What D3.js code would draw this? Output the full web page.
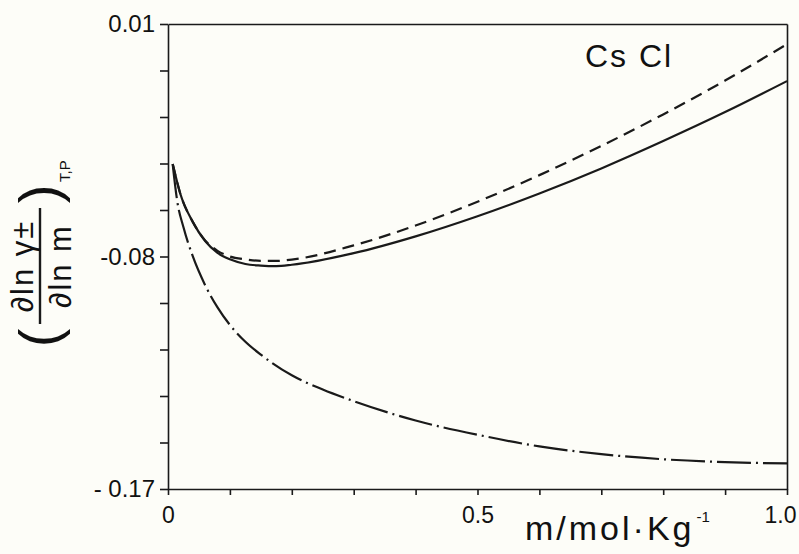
<!DOCTYPE html>
<html>
<head>
<meta charset="utf-8">
<script src="https://cdn.jsdelivr.net/npm/d3@7"></script>
<style>
  html, body { margin: 0; padding: 0; background: #fdfdf8; }
  svg { display: block; }
  text { font-family: "Liberation Sans", Arial, sans-serif; fill: #111; }
</style>
</head>
<body>
<div id="chart"></div>
<script>
// m / mol·kg^-1
const mSolid = [0.0076, 0.02, 0.04, 0.06, 0.08, 0.1, 0.125, 0.15, 0.175, 0.2, 0.3, 0.4, 0.5, 0.6, 0.7, 0.8, 0.9, 1.0];
const solidVals = [-0.0442, -0.0558, -0.0666, -0.0740, -0.0786, -0.0811, -0.0829, -0.0835, -0.0837, -0.0832, -0.0787, -0.0722, -0.0644, -0.0556, -0.0459, -0.0353, -0.0241, -0.0121];
const dashedVals = [-0.0442, -0.0558, -0.0666, -0.0738, -0.0778, -0.0800, -0.0811, -0.0817, -0.0817, -0.0812, -0.0757, -0.0680, -0.0588, -0.0485, -0.0372, -0.0250, -0.0119, 0.0022];

const mDashDot = [0.0076, 0.015, 0.025, 0.04, 0.06, 0.08, 0.1, 0.125, 0.15, 0.2, 0.25, 0.3, 0.4, 0.5, 0.6, 0.7, 0.8, 0.9, 1.0];
const dashDotVals = [-0.0443, -0.0587, -0.0687, -0.0799, -0.0911, -0.0997, -0.1065, -0.113, -0.118, -0.126, -0.1315, -0.136, -0.1435, -0.149, -0.1535, -0.1565, -0.1585, -0.1596, -0.1601];

const xTickValues = [0, 0.1, 0.2, 0.3, 0.4, 0.5, 0.6, 0.7, 0.8, 0.9, 1.0];
const xTickLabels = ['0', '', '', '', '', '0.5', '', '', '', '', '1.0'];
const yTickValues = [0.01, -0.008, -0.026, -0.044, -0.062, -0.08, -0.098, -0.116, -0.134, -0.152, -0.17];
const yTickLabels = ['0.01', '', '', '', '', '-0.08', '', '', '', '', '- 0.17'];

const W = 799, H = 554;
const svg = d3.select('#chart').append('svg').attr('width', W).attr('height', H);

const x = d3.scaleLinear().domain([0, 1]).range([168, 787]);
const y = d3.scaleLinear().domain([-0.17, 0.01]).range([489, 24]);

const ink = '#1a1a1a';

// frame: top and right
svg.append('g').attr('transform', `translate(0,${y(0.01)})`)
  .call(d3.axisTop(x).tickValues([]).tickSizeOuter(0));
svg.append('g').attr('transform', `translate(${x(1)},0)`)
  .call(d3.axisRight(y).tickValues([]).tickSizeOuter(0));

// bottom axis
const xAxis = svg.append('g').attr('transform', `translate(0,${y(-0.17)})`)
  .call(d3.axisBottom(x).tickValues(xTickValues).tickSize(6).tickSizeOuter(0)
    .tickFormat((d, i) => xTickLabels[i]));
xAxis.selectAll('text').attr('dy', '1.08em').style('font-size', '23px');
xAxis.selectAll('text').filter(d => d === 1).attr('text-anchor', 'end').attr('x', 9);

// left axis
const yAxis = svg.append('g').attr('transform', `translate(${x(0)},0)`)
  .call(d3.axisLeft(y).tickValues(yTickValues).tickSize(8).tickSizeOuter(0)
    .tickFormat((d, i) => yTickLabels[i]));
yAxis.selectAll('text').attr('x', -13).style('font-size', '24px');

svg.selectAll('.domain, .tick line').attr('stroke', ink).attr('stroke-width', 1.6);

// curves
const line = (xs) => d3.line()
  .x((d, i) => x(xs[i]))
  .y(d => y(d))
  .curve(d3.curveMonotoneX);

svg.append('path').datum(solidVals)
  .attr('fill', 'none').attr('stroke', ink).attr('stroke-width', 2.2)
  .attr('d', line(mSolid));

svg.append('path').datum(dashedVals)
  .attr('fill', 'none').attr('stroke', ink).attr('stroke-width', 2.2)
  .attr('stroke-dasharray', '12,7')
  .attr('d', line(mSolid));

svg.append('path').datum(dashDotVals)
  .attr('fill', 'none').attr('stroke', ink).attr('stroke-width', 2.2)
  .attr('stroke-dasharray', '34,5,2,5')
  .attr('d', line(mDashDot));

// label inside plot
svg.append('text').attr('x', 585).attr('y', 67)
  .style('font-size', '32px').style('letter-spacing', '2px')
  .text('Cs Cl');

// x title
const xt = svg.append('text').attr('x', 525).attr('y', 540)
  .style('font-size', '34px').style('letter-spacing', '3px');
xt.append('tspan').text('m/mol·Kg');
xt.append('tspan').attr('dx', 2).attr('dy', -18).style('font-size', '15px')
  .style('letter-spacing', '0px').text('-1');

// y title: rotated fraction
const yl = svg.append('g').attr('transform', 'translate(40,266) rotate(-90)');
yl.append('line').attr('x1', -58).attr('x2', 58).attr('y1', 0).attr('y2', 0)
  .attr('stroke', ink).attr('stroke-width', 2.4);
yl.append('text').attr('x', 0).attr('y', -7).attr('text-anchor', 'middle')
  .style('font-size', '31px').style('letter-spacing', '2px').text('∂ln γ±');
yl.append('text').attr('x', 0).attr('y', 31).attr('text-anchor', 'middle')
  .style('font-size', '31px').style('letter-spacing', '2px').text('∂ln m');
yl.append('text').attr('x', -72).attr('y', 18).attr('text-anchor', 'middle')
  .style('font-size', '56px').style('font-weight', 300).text('(');
yl.append('text').attr('x', 72).attr('y', 18).attr('text-anchor', 'middle')
  .style('font-size', '56px').style('font-weight', 300).text(')');
yl.append('text').attr('x', 84).attr('y', 30)
  .style('font-size', '15px').text('T,P');
</script>
</body>
</html>
